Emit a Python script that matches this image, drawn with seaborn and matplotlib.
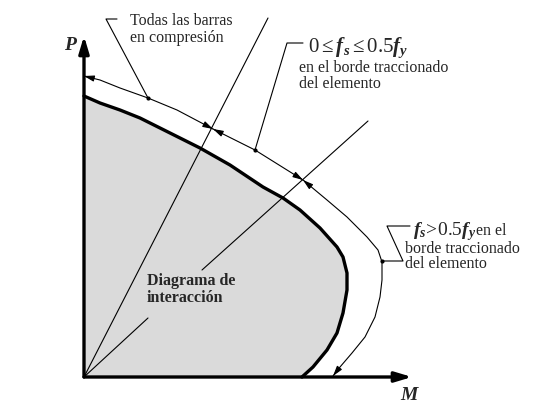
import numpy as np
import matplotlib
matplotlib.use("Agg")
import matplotlib.pyplot as plt
import seaborn as sns

sns.set_style("white")
plt.rcParams['font.family'] = ['Liberation Serif', 'DejaVu Serif']
plt.rcParams['mathtext.fontset'] = 'custom'
plt.rcParams['mathtext.rm'] = 'Liberation Serif'
plt.rcParams['mathtext.it'] = 'Liberation Serif:italic'
plt.rcParams['mathtext.bf'] = 'Liberation Serif:bold'
plt.rcParams['mathtext.bfit'] = 'Liberation Serif:italic:bold'

# ---- data (M, P) ----
inter_M = [0, 16, 36, 56, 76, 96, 116, 146, 179, 199, 216, 236, 253, 259, 263, 263, 259, 253, 243, 229, 218]
inter_P = [281, 274, 267, 259, 249, 239, 229, 212, 190, 179, 167, 149, 130, 120, 104, 87, 64, 44, 27, 10, 0]
outer_M = [0, 16, 36, 64, 93, 129, 171, 219, 243, 263, 283, 294, 298, 298, 296, 291, 281, 268, 256, 249]
outer_P = [301, 297, 289, 279, 267, 248, 227, 197, 177, 160, 140, 127, 115, 97, 80, 60, 40, 24, 10, 1]
split_idx = [0, 5, 7, 19]          # region boundaries on the outer curve

ray1_M = [0, 184]
ray1_P = [0, 359]
ray2a_M = [0, 64]
ray2a_P = [0, 59]
ray2b_M = [118, 284]
ray2b_P = [107, 256]

lead1_M = [33, 22, 64]
lead1_P = [358, 358, 279]
lead2_M = [219, 203, 171]
lead2_P = [334, 334, 227]
lead3_M = [326, 303, 319, 298]
lead3_P = [151, 151, 116, 116]

fig = plt.figure(figsize=(5.53, 4.05), dpi=100)
ax = fig.add_axes([0, 0, 1, 1])
ax.set_xlim(-84, 469)
ax.set_ylim(-28, 377)
ax.axis("off")

# filled interaction diagram
ax.fill(inter_M + [0], inter_P + [0], color="#dadada", zorder=1, lw=0)
sns.lineplot(x=inter_M, y=inter_P, sort=False, estimator=None, color="black", lw=2.4, ax=ax, zorder=3)

# outer curve segments with double arrows
for a, b in zip(split_idx[:-1], split_idx[1:]):
    sns.lineplot(x=outer_M[a:b + 1], y=outer_P[a:b + 1], sort=False, estimator=None,
                 color="black", lw=0.8, ax=ax, zorder=3)
    for tip, prev in ((a, a + 1), (b, b - 1)):
        tx, ty = outer_M[tip], outer_P[tip]
        dx, dy = tx - outer_M[prev], ty - outer_P[prev]
        n = np.hypot(dx, dy)
        ax.annotate("", xy=(tx, ty), xytext=(tx - dx / n * 9, ty - dy / n * 9),
                    arrowprops=dict(arrowstyle="-|>,head_length=0.6,head_width=0.18",
                                    color="black", lw=0.8, shrinkA=0, shrinkB=0), zorder=4)

# radial lines
for mm, pp in ((ray1_M, ray1_P), (ray2a_M, ray2a_P), (ray2b_M, ray2b_P)):
    sns.lineplot(x=mm, y=pp, sort=False, estimator=None, color="black", lw=0.8, ax=ax, zorder=3)

# leaders
for mm, pp in ((lead1_M, lead1_P), (lead2_M, lead2_P), (lead3_M, lead3_P)):
    sns.lineplot(x=mm, y=pp, sort=False, estimator=None, color="black", lw=0.8, ax=ax, zorder=3)
    ax.plot(mm[-1], pp[-1], "o", color="black", ms=2, zorder=4)

# axes arrows
ax.annotate("", xy=(0, 341), xytext=(0, 0),
            arrowprops=dict(arrowstyle="-|>,head_length=1.0,head_width=0.3", color="black",
                            lw=2.4, shrinkA=0, shrinkB=0), zorder=5)
ax.annotate("", xy=(328, 0), xytext=(0, 0),
            arrowprops=dict(arrowstyle="-|>,head_length=1.0,head_width=0.3", color="black",
                            lw=2.4, shrinkA=0, shrinkB=0), zorder=5)

ax.text(-14, 327, "P", fontsize=14, fontweight="bold", fontstyle="italic", ha="center", va="baseline")
ax.text(325, -23, "M", fontsize=14, fontweight="bold", fontstyle="italic", ha="center", va="baseline")

fs = 11.5
ax.text(46, 352, "Todas las barras", fontsize=fs, va="baseline")
ax.text(46, 335, "en compresión", fontsize=fs, va="baseline")

ax.text(224, 325, r"$0 \leq \mathbfit{f}_\mathbfit{s} \leq 0.5\mathbfit{f}_\mathbfit{y}$", fontsize=15, va="baseline")
ax.text(215, 305, "en el borde traccionado", fontsize=fs, va="baseline")
ax.text(215, 289, "del elemento", fontsize=fs, va="baseline")

ax.text(329, 142, r"$\mathbfit{f}_\mathbfit{s}\!>\!0.5\mathbfit{f}_\mathbfit{y}$", fontsize=14, va="baseline")
ax.text(392, 142, "en el", fontsize=fs, va="baseline")
ax.text(321, 124, "borde traccionado", fontsize=fs, va="baseline")
ax.text(321, 109, "del elemento", fontsize=fs, va="baseline")

ax.text(63, 92, "Diagrama de", fontsize=fs, fontweight="bold", va="baseline")
ax.text(63, 75, "interacción", fontsize=fs, fontweight="bold", va="baseline")

fig.savefig("out.png", dpi=100)
